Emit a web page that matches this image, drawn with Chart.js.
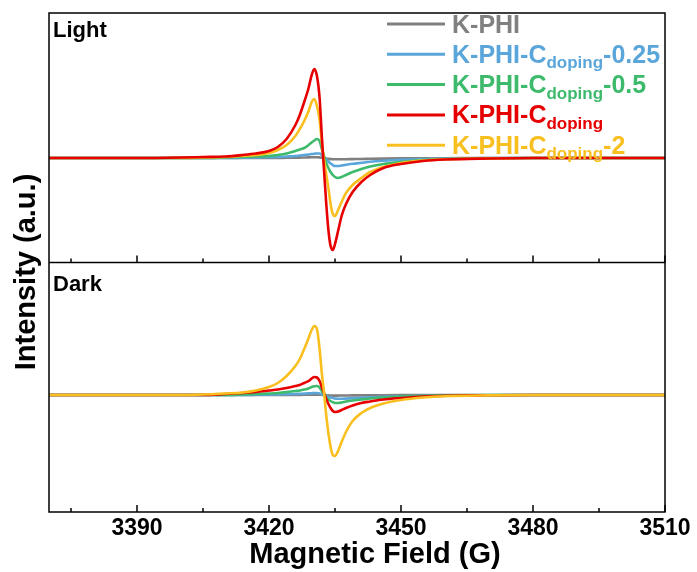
<!DOCTYPE html>
<html>
<head>
<meta charset="utf-8">
<script src="https://cdn.jsdelivr.net/npm/chart.js@4.4.1/dist/chart.umd.min.js"></script>
<style>
  body { margin: 0; background: #fff; }
  canvas { display: block; }
</style>
</head>
<body>
<canvas id="grafico" width="697" height="572"></canvas>
<script>
const ctx = document.getElementById('grafico');
const fonte = '"Liberation Sans", Arial, sans-serif';

// campo magnético (G)
const fields = [3370, 3380, 3390, 3400, 3405, 3410, 3414, 3417, 3420, 3422, 3424, 3426, 3427, 3428, 3429,
  3429.7, 3430.3, 3430.9, 3431.5, 3432, 3432.5, 3433, 3433.5, 3434, 3434.5, 3435, 3435.7, 3436.5, 3437.5,
  3439, 3441, 3443, 3446, 3450, 3455, 3460, 3470, 3480, 3490, 3500, 3510];

const majorTicks = [3390, 3420, 3450, 3480, 3510];
const minorTicks = [3375, 3405, 3435, 3465, 3495];

// nome de cada amostra: [texto, subscrito, sufixo]
const sampleNames = [
  ['K-PHI', '', ''],
  ['K-PHI-C', 'doping', '-0.25'],
  ['K-PHI-C', 'doping', '-0.5'],
  ['K-PHI-C', 'doping', ''],
  ['K-PHI-C', 'doping', '-2']
];
const cores = ['#808080', '#5aa6da', '#3dba6c', '#e60000', '#f9bf1f'];

// Light
const lightKPHI = [0, 0, 0, 0, 0, 0, 0, 0, 0, 0, 0.002, 0.003, 0.004, 0.005, 0.006, 0.007, 0.008, 0.008, 0.006, 0.002,
  -0.002, -0.006, -0.009, -0.011, -0.012, -0.013, -0.013, -0.012, -0.012, -0.011, -0.01, -0.008, -0.006, -0.004,
  -0.003, -0.002, 0, 0, 0, 0, 0];
const lightC025 = [0, 0, 0, 0, 0, 0, 0.003, 0.005, 0.008, 0.01, 0.015, 0.02, 0.025, 0.03, 0.035, 0.04, 0.043, 0.045,
  0.045, 0.03, 0.01, -0.015, -0.035, -0.055, -0.07, -0.08, -0.08, -0.075, -0.068, -0.058, -0.048, -0.038, -0.028,
  -0.018, -0.01, -0.005, 0, 0, 0, 0, 0];
const lightC05 = [0, 0, 0, 0, 0, 0.005, 0.01, 0.015, 0.02, 0.03, 0.045, 0.07, 0.085, 0.10, 0.13, 0.155, 0.175, 0.19,
  0.17, 0.09, 0.02, -0.05, -0.10, -0.14, -0.17, -0.19, -0.20, -0.19, -0.17, -0.14, -0.11, -0.085, -0.06, -0.04,
  -0.02, -0.01, -0.004, 0, 0, 0, 0];
const lightC1 = [0, 0, 0, 0.005, 0.01, 0.015, 0.03, 0.045, 0.07, 0.11, 0.19, 0.33, 0.43, 0.56, 0.70, 0.83, 0.89, 0.82,
  0.60, 0.22, -0.12, -0.45, -0.72, -0.88, -0.92, -0.86, -0.73, -0.58, -0.46, -0.34, -0.24, -0.17, -0.10, -0.06,
  -0.03, -0.015, -0.005, 0, 0, 0, 0];
const lightC2 = [0, 0, 0, 0, 0.005, 0.01, 0.02, 0.03, 0.05, 0.08, 0.13, 0.22, 0.29, 0.37, 0.47, 0.56, 0.59, 0.52,
  0.38, 0.16, -0.02, -0.16, -0.30, -0.46, -0.56, -0.58, -0.52, -0.44, -0.35, -0.27, -0.20, -0.14, -0.09, -0.05,
  -0.025, -0.012, -0.004, 0, 0, 0, 0];

// Dark
const darkKPHI = [0, 0, 0, 0, 0, 0, 0, 0, 0, 0, 0, 0, 0.001, 0.002, 0.003, 0.004, 0.004, 0.004, 0.003, 0.001,
  -0.001, -0.003, -0.004, -0.005, -0.006, -0.006, -0.006, -0.005, -0.005, -0.004, -0.004, -0.003, -0.002, -0.001,
  0, 0, 0, 0, 0, 0, 0];
const darkC025 = [0, 0, 0, 0, 0, 0, 0, 0.002, 0.004, 0.006, 0.008, 0.01, 0.012, 0.014, 0.016, 0.018, 0.02, 0.02,
  0.016, 0.008, 0, -0.01, -0.018, -0.025, -0.03, -0.035, -0.038, -0.038, -0.036, -0.032, -0.028, -0.024, -0.018,
  -0.012, -0.007, -0.004, -0.002, 0, 0, 0, 0];
const darkC05 = [0, 0, 0, 0, 0, 0, 0.005, 0.01, 0.015, 0.02, 0.03, 0.04, 0.045, 0.055, 0.065, 0.08, 0.088, 0.09,
  0.075, 0.04, 0.01, -0.02, -0.045, -0.06, -0.072, -0.08, -0.08, -0.075, -0.065, -0.055, -0.045, -0.035, -0.025,
  -0.015, -0.008, -0.004, 0, 0, 0, 0, 0];
const darkC1 = [0, 0, 0, 0, 0, 0.01, 0.02, 0.03, 0.045, 0.055, 0.07, 0.09, 0.10, 0.12, 0.14, 0.165, 0.18, 0.175,
  0.14, 0.08, 0.02, -0.04, -0.09, -0.13, -0.16, -0.17, -0.165, -0.15, -0.13, -0.105, -0.08, -0.065, -0.045, -0.03,
  -0.015, -0.008, -0.003, 0, 0, 0, 0];
const darkC2 = [0, 0, 0, 0, 0.005, 0.015, 0.025, 0.045, 0.08, 0.12, 0.19, 0.29, 0.36, 0.46, 0.57, 0.65, 0.69, 0.66,
  0.46, 0.22, 0.03, -0.20, -0.38, -0.52, -0.60, -0.61, -0.56, -0.47, -0.37, -0.26, -0.18, -0.13, -0.085, -0.05,
  -0.025, -0.012, -0.004, 0, 0, 0, 0];

function serie(idx, valores, eixo, ordem) {
  return {
    label: sampleNames[idx].join(''),
    data: fields.map((x, i) => ({ x: x, y: valores[i] })),
    borderColor: cores[idx],
    borderWidth: 2.6,
    pointRadius: 0,
    cubicInterpolationMode: 'monotone',
    yAxisID: eixo,
    order: ordem
  };
}

// moldura, divisória, marcas internas e textos
const moldura = {
  id: 'moldura',
  afterDatasetsDraw(chart) {
    const c = chart.ctx;
    const a = chart.chartArea;
    const x = chart.scales.x;
    const meio = chart.scales.yLight.bottom;

    c.save();
    c.strokeStyle = '#000';
    c.lineWidth = 1.5;
    c.strokeRect(a.left, a.top, a.right - a.left, a.bottom - a.top);
    c.beginPath();
    c.moveTo(a.left, meio);
    c.lineTo(a.right, meio);
    [meio, a.bottom].forEach(base => {
      majorTicks.forEach(v => {
        const px = x.getPixelForValue(v);
        c.moveTo(px, base);
        c.lineTo(px, base - 7);
      });
      minorTicks.forEach(v => {
        const px = x.getPixelForValue(v);
        c.moveTo(px, base);
        c.lineTo(px, base - 4);
      });
    });
    c.stroke();

    c.fillStyle = '#000';
    c.font = 'bold 22px ' + fonte;
    c.textBaseline = 'alphabetic';
    c.fillText('Light', a.left + 4, a.top + 24);
    c.fillText('Dark', a.left + 4, meio + 28);

    // títulos dos eixos
    c.font = 'bold 29px ' + fonte;
    c.textAlign = 'center';
    c.fillText('Magnetic Field (G)', 375, 563);

    c.save();
    c.translate(35, 272);
    c.rotate(-Math.PI / 2);
    c.fillText('Intensity (a.u.)', 0, 0);
    c.restore();
    c.textAlign = 'left';

    // legenda com subscrito
    sampleNames.forEach((partes, i) => {
      const y = 24 + i * 30.3;
      c.strokeStyle = cores[i];
      c.lineWidth = 3;
      c.beginPath();
      c.moveTo(387, y);
      c.lineTo(445, y);
      c.stroke();

      c.fillStyle = cores[i];
      let px = 452;
      c.font = 'bold 25px ' + fonte;
      c.fillText(partes[0], px, y + 8.5);
      px += c.measureText(partes[0]).width;
      if (partes[1]) {
        c.font = 'bold 17px ' + fonte;
        c.fillText(partes[1], px, y + 14);
        px += c.measureText(partes[1]).width;
      }
      if (partes[2]) {
        c.font = 'bold 25px ' + fonte;
        c.fillText(partes[2], px, y + 8.5);
      }
    });
    c.restore();
  }
};

new Chart(ctx, {
  type: 'line',
  data: {
    datasets: [
      serie(0, lightKPHI, 'yLight', 4),
      serie(1, lightC025, 'yLight', 3),
      serie(2, lightC05, 'yLight', 2),
      serie(3, lightC1, 'yLight', 0),
      serie(4, lightC2, 'yLight', 1),
      serie(0, darkKPHI, 'yDark', 4),
      serie(1, darkC025, 'yDark', 3),
      serie(2, darkC05, 'yDark', 2),
      serie(3, darkC1, 'yDark', 1),
      serie(4, darkC2, 'yDark', 0)
    ]
  },
  options: {
    responsive: false,
    animation: false,
    devicePixelRatio: 1,
    layout: { padding: { left: 49, right: 32, top: 13, bottom: 0 } },
    plugins: {
      legend: { display: false },
      tooltip: { enabled: false }
    },
    scales: {
      x: {
        type: 'linear',
        min: 3370,
        max: 3510,
        afterBuildTicks: s => { s.ticks = majorTicks.map(v => ({ value: v })); },
        afterFit: s => { s.height = 60; },
        grid: { drawOnChartArea: false, drawTicks: false },
        border: { display: false },
        ticks: {
          color: '#000',
          padding: 3,
          autoSkip: false,
          maxRotation: 0,
          callback: v => String(v),
          font: { family: fonte, size: 23, weight: 'bold' }
        }
      },
      yDark: { type: 'linear', display: false, min: -1.17, max: 1.325, stack: 'painel', stackWeight: 1 },
      yLight: { type: 'linear', display: false, min: -1.045, max: 1.45, stack: 'painel', stackWeight: 1 }
    }
  },
  plugins: [moldura]
});
</script>
</body>
</html>
